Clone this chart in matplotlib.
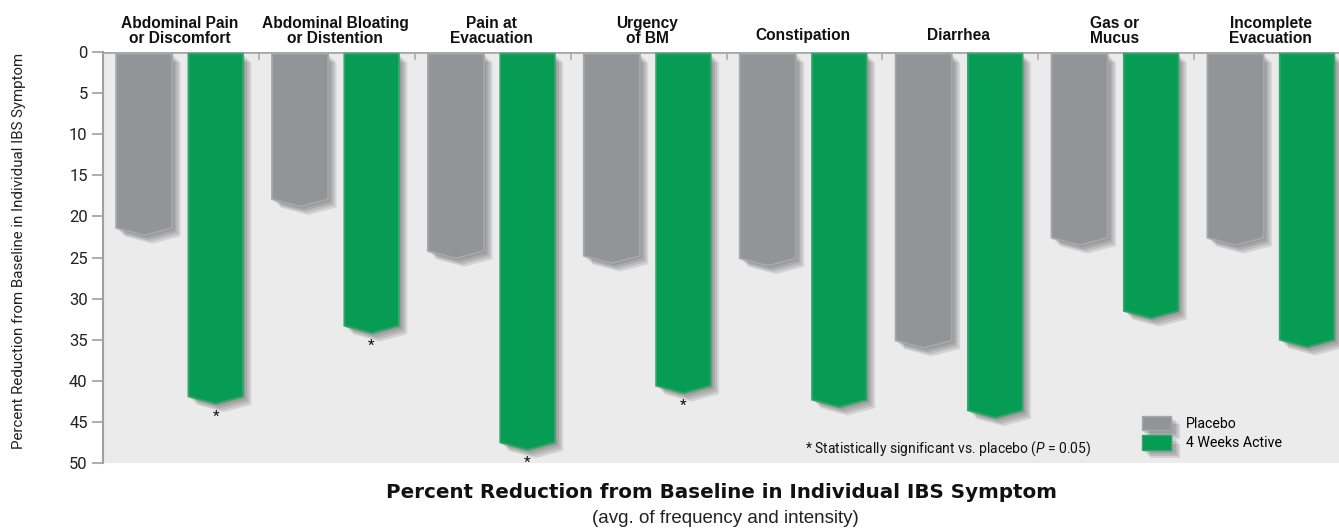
import numpy as np
import matplotlib
matplotlib.use('Agg')
import matplotlib.pyplot as plt
import matplotlib.patheffects as pe
from matplotlib.patches import Patch

NARROW = ['Roboto', 'DejaVu Sans']
plt.rcParams['font.family'] = NARROW
plt.rcParams['mathtext.fontset'] = 'custom'
plt.rcParams['mathtext.rm'] = 'Roboto'
plt.rcParams['mathtext.it'] = 'Roboto:italic'

# data (percent reduction from baseline)
categories = ["Abdominal Pain\nor Discomfort", "Abdominal Bloating\nor Distention",
              "Pain at\nEvacuation", "Urgency\nof BM", "Constipation", "Diarrhea",
              "Gas or\nMucus", "Incomplete\nEvacuation"]
placebo = [22.3, 18.8, 25.1, 25.7, 26.0, 36.0, 23.5, 23.5]
active = [42.8, 34.2, 48.4, 41.5, 43.2, 44.5, 32.4, 35.9]
significant = [True, True, True, True, False, False, False, False]
yticks = [0, 5, 10, 15, 20, 25, 30, 35, 40, 45, 50]

GRAY = '#939498'
GREEN = '#069c54'
BOLD_FONT = ['Liberation Sans', 'DejaVu Sans']

fig = plt.figure(figsize=(13.39, 5.31), dpi=100)
ax = fig.add_axes([103 / 1339, 68 / 531, 1236 / 1339, 411 / 531])
ax.set_facecolor('#ebebeb')

# soft drop shadow made of a few stacked offsets
soft_shadow = [pe.SimplePatchShadow(offset=(d, -d), shadow_rgbFace='#3a3a3a', alpha=0.14)
               for d in (1.5, 3, 4.5, 6)] + [pe.Normal()]


def chevron_bar(x0, width, value, face, edge):
    # bar hanging from the top with a pointed (chevron) bottom
    notch = 0.9
    xs = [x0, x0 + width, x0 + width, x0 + width / 2, x0]
    ys = [0.2, 0.2, value - notch, value, value - notch]
    poly = ax.fill(xs, ys, facecolor=face, edgecolor=edge, linewidth=1.3, zorder=3)[0]
    poly.set_path_effects(soft_shadow)
    return poly


n = len(categories)
for i in range(n):
    chevron_bar(i + 0.084, 0.36, placebo[i], GRAY, '#a7a8ac')
    chevron_bar(i + 0.548, 0.35, active[i], GREEN, '#34a56a')
    if significant[i]:
        ax.text(i + 0.723, active[i] + 0.7, '*', ha='center', va='top', fontsize=11,
                color='#111111', clip_on=False, zorder=4)
    # category headers
    if '\n' in categories[i]:
        ax.text(i + 0.49, 1.014, categories[i], transform=ax.get_xaxis_transform(),
                ha='center', va='bottom', fontsize=11.2, fontweight='bold',
                family=BOLD_FONT, linespacing=1.0, color='#111111')
    else:
        ax.text(i + 0.49, 1.04, categories[i], transform=ax.get_xaxis_transform(),
                ha='center', va='center', fontsize=11.2, fontweight='bold',
                family=BOLD_FONT, color='#111111')

# group separators on the top line
ax.axhline(0, color='#a9a9a9', linewidth=2, zorder=2)
for k in range(1, n):
    ax.plot([k, k], [0, 0.9], color='#a9a9a9', linewidth=1.2, zorder=2)

ax.set_xlim(0, 1236 / 155.9)
ax.set_ylim(50, 0)
ax.set_xticks([])
ax.set_yticks(yticks)
ax.tick_params(axis='y', length=8, width=1.2, color='#a0a0a0', labelsize=12,
               labelcolor='#222222', pad=3)
for side in ['top', 'right', 'bottom']:
    ax.spines[side].set_visible(False)
ax.spines['left'].set_color('#a0a0a0')
ax.spines['left'].set_linewidth(1.5)
ax.set_ylabel('Percent Reduction from Baseline in Individual IBS Symptom',
              fontsize=10.9, color='#222222')
ax.yaxis.set_label_coords(-0.062, 0.516)

# footnote and legend
ax.text(0.568, 0.034, r'* Statistically significant vs. placebo ($\it{P}$ = 0.05)',
        transform=ax.transAxes, ha='left', va='center', fontsize=10, color='#111111')
handles = [Patch(facecolor=GRAY, edgecolor='#a7a8ac', label='Placebo'),
           Patch(facecolor=GREEN, edgecolor='#34a56a', label='4 Weeks Active')]
leg = ax.legend(handles=handles, loc='lower left', bbox_to_anchor=(0.83, 0.0),
                frameon=False, fontsize=10.2, handlelength=2.1, handleheight=1.2,
                labelspacing=0.3, handletextpad=1.0)
for h in leg.legend_handles:
    h.set_path_effects(soft_shadow)

fig.text(0.539, 0.0734, 'Percent Reduction from Baseline in Individual IBS Symptom',
         ha='center', va='center', fontsize=14.3, fontweight='bold', family=['DejaVu Sans'],
         color='#111111')
fig.text(0.542, 0.0226, '(avg. of frequency and intensity)', ha='center', va='center',
         fontsize=13.5, family=['Liberation Sans'], color='#222222')

fig.savefig('out.png', dpi=100, facecolor='white')
